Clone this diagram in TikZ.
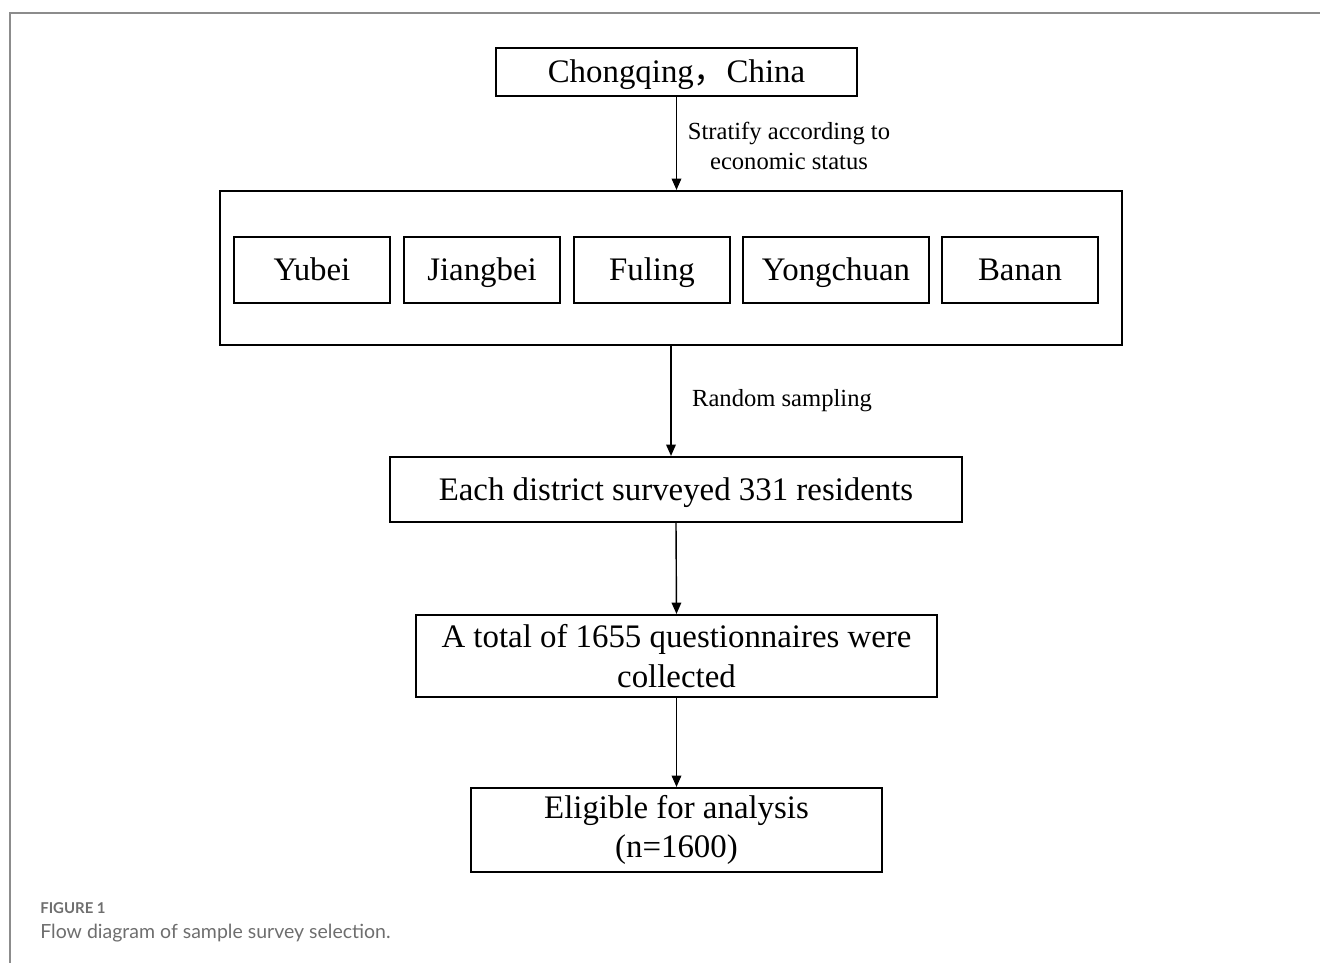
\documentclass[tikz,border=0pt]{standalone}
\usepackage{fontspec}
\setmainfont{Liberation Serif}
\newfontfamily\capfont{Lato}
\newfontfamily\cjk{Noto Sans CJK SC}
\usepackage{xcolor}
\usepackage{tikz}
\usetikzlibrary{arrows.meta}
\definecolor{framegray}{HTML}{8C8C8C}
\definecolor{capgray}{HTML}{6E6E6E}

\begin{document}
\begin{tikzpicture}[x=0.02cm,y=-0.02cm,
    box/.style={draw,line width=1.2pt,inner sep=0pt,font=\fontsize{18.7}{22.5}\selectfont,text height=15pt,text depth=3pt},
    dbox/.style={box,minimum height=66*0.02cm},
    mbox/.style={draw,line width=1.2pt,inner sep=0pt,align=center,font=\fontsize{18.7}{22.5}\selectfont},
    lbl/.style={align=center,inner sep=0pt,font=\fontsize{14}{17}\selectfont},
    arr/.style={-{Triangle[length=6.5pt,width=5.5pt]},line width=0.8pt}]
    %
    \useasboundingbox (0,0) rectangle (1320,963);
    \draw[framegray,line width=1.1pt] (10,963) -- (10,13) -- (1320,13);
    %
    \node[box,minimum width=361*0.02cm,minimum height=48*0.02cm] (china) at (676.5,72) {Chongqing{\cjk，}China};
    \node[draw,line width=1.2pt,minimum width=902*0.02cm,minimum height=154*0.02cm] (outer) at (671,268) {};
    \node[dbox,minimum width=156*0.02cm] (yubei) at (312,270) {Yubei};
    \node[dbox,minimum width=156*0.02cm] (jiangbei) at (482,270) {Jiangbei};
    \node[dbox,minimum width=156*0.02cm] (fuling) at (652,270) {Fuling};
    \node[dbox,minimum width=186*0.02cm] (yongchuan) at (836,270) {Yongchuan};
    \node[dbox,minimum width=156*0.02cm] (banan) at (1020,270) {Banan};
    \node[box,minimum width=572*0.02cm,minimum height=65*0.02cm] (each) at (676,489.5) {Each district surveyed 331 residents};
    \node[mbox,minimum width=521*0.02cm,minimum height=82*0.02cm] (total) at (676.5,656) {A total of 1655 questionnaires were\\collected};
    \node[mbox,minimum width=411*0.02cm,minimum height=84*0.02cm] (elig) at (676.5,830) {Eligible for analysis\\(n=1600)};
    %
    \node[lbl] (strat) at (789,146) {Stratify according to\\economic status};
    \node[lbl] (rand) at (782,401) {Random sampling};
    %
    \draw[arr] (china.south) -- (china.south |- outer.north);
    \draw[arr] (outer.south) -- (outer.south |- each.north);
    \draw[arr] (each.south) -- (total.north);
    \draw[arr] (total.south) -- (elig.north);
    %
    \node[anchor=west,inner sep=0pt,text=capgray,font=\capfont\bfseries\fontsize{8.5}{10}\selectfont] (fig) at (40,908) {FIGURE 1};
    \node[anchor=west,inner sep=0pt,text=capgray,font=\capfont\fontsize{11.1}{13}\selectfont] (cap) at (40,933) {Flow diagram of sample survey selection.};
    %
\end{tikzpicture}
\end{document}
